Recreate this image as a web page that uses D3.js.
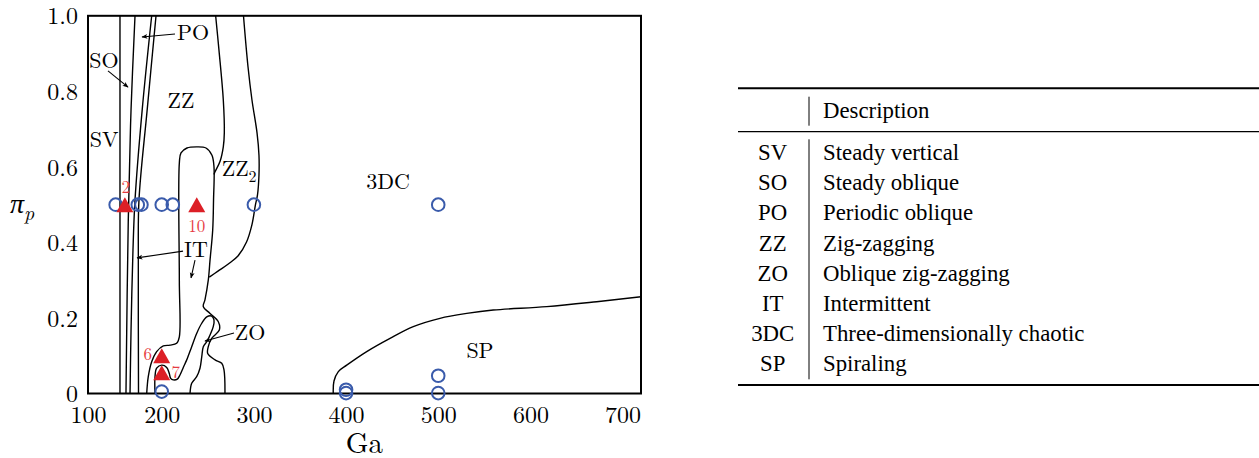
<!DOCTYPE html>
<html>
<head>
<meta charset="utf-8">
<script src="https://cdn.jsdelivr.net/npm/d3@7"></script>
<style>
  body { margin: 0; background: #fff; }
  svg text { font-family: "Latin Modern Roman", "Liberation Serif", serif; fill: #000; }
  svg .table-text { font-family: "Liberation Serif", "Times New Roman", serif; }
</style>
</head>
<body>
<svg id="chart" width="1259" height="458"></svg>
<script>
// ---- Axis ticks ----
const xTickValues = [100, 200, 300, 400, 500, 600, 700];
const yTickValues = [0, 0.2, 0.4, 0.6, 0.8, 1.0];
const yTickLabels = ["0", "0.2", "0.4", "0.6", "0.8", "1.0"];

// ---- Simulated cases (open circles) ----
const caseGa = [150, 174, 178, 200, 212, 300, 500, 200, 400, 400, 500, 500];
const casePi = [0.5, 0.5, 0.5, 0.5, 0.5, 0.5, 0.5, 0.005, 0.01, 0.001, 0.047, 0.001];

// ---- Highlighted cases (filled triangles) ----
const highlightGa = [160, 238, 200, 200];
const highlightPi = [0.5, 0.5, 0.1, 0.055];
const highlightId = ["2", "10", "6", "7"];

// ---- Regime boundaries, as [Ga, pi_p] ----
const boundarySV = [[154.7, 0], [154.7, 1]];
const boundarySO = [[171.0, 1], [166.7, 0.751], [163.7, 0.459], [161.2, 0]];
const boundaryPO = [[189.1, 1], [178.8, 0.751], [171.0, 0.512], [168.8, 0.380], [166.7, 0.168], [165.6, 0]];
const boundaryIT = [[193.8, 1], [184.2, 0.751], [175.3, 0.512], [174.6, 0.353], [174.8, 0]];
const boundaryFinger = [
  [183.7, 0], [185.4, 0.0445], [189.1, 0.084], [194.5, 0.111], [201.7, 0.126], [209.0, 0.128],
  [216.2, 0.133], [219.1, 0.150], [219.1, 0.300], [219.1, 0.610], [220.9, 0.637], [227.4, 0.650],
  [237.9, 0.653], [248.0, 0.650], [254.5, 0.631], [256.7, 0.600], [256.2, 0.512], [255.3, 0.433],
  [252.4, 0.353], [250.5, 0.300], [246.9, 0.248], [245.1, 0.230], [252.4, 0.212], [261.4, 0.190],
  [262.5, 0.168], [254.2, 0.146], [250.5, 0.124], [249.9, 0.106], [257.8, 0.089], [265.1, 0.080],
  [267.6, 0.062], [268.6, 0]
];
const boundaryZO = [
  [192.7, 0], [192.7, 0.0445], [194.5, 0.067], [200.0, 0.075], [205.4, 0.069], [208.2, 0.053],
  [209.7, 0.040], [212.5, 0.036], [216.9, 0.038], [219.8, 0.049], [223.4, 0.069], [227.1, 0.089],
  [232.5, 0.124], [237.9, 0.159], [243.4, 0.186], [248.8, 0.203], [254.2, 0.205], [256.7, 0.195],
  [255.9, 0.177], [252.4, 0.155], [248.8, 0.137], [245.1, 0.124], [243.4, 0.097], [241.5, 0.067],
  [237.9, 0.0445], [232.5, 0.027], [230.7, 0]
];
const boundaryZZ2Inner = [
  [258.5, 1], [262.1, 0.909], [266.8, 0.777], [267.9, 0.690], [266.8, 0.653], [263.2, 0.614],
  [257.8, 0.587], [256.7, 0.580]
];
const boundaryZZ2Outer = [
  [288.7, 1], [293.6, 0.865], [297.9, 0.777], [303.4, 0.690], [305.5, 0.631], [305.5, 0.578],
  [303.9, 0.526], [301.7, 0.500], [297.9, 0.447], [292.0, 0.401], [282.7, 0.364], [272.2, 0.343],
  [261.0, 0.324], [251.6, 0.308]
];
const boundarySP = [
  [386.1, 0], [386.9, 0.033], [391.6, 0.058], [400.7, 0.075], [422.4, 0.111], [447.7, 0.146],
  [472.9, 0.177], [501.9, 0.199], [530.9, 0.212], [559.7, 0.221], [617.7, 0.230], [671.9, 0.243],
  [720, 0.256]
];

// ---- Table contents ----
const regimeCodes = ["SV", "SO", "PO", "ZZ", "ZO", "IT", "3DC", "SP"];
const regimeNames = ["Steady vertical", "Steady oblique", "Periodic oblique", "Zig-zagging",
  "Oblique zig-zagging", "Intermittent", "Three-dimensionally chaotic", "Spiraling"];

// ---- Annotation placement (Ga, pi_p anchors) ----
const regionLabels = [
  { text: "SV", ga: 137.4, pi: 0.653 },
  { text: "SO", ga: 137.4, pi: 0.861 },
  { text: "PO", ga: 233.9, pi: 0.936 },
  { text: "ZZ", ga: 220.9, pi: 0.756 },
  { text: "3DC", ga: 445.5, pi: 0.541 },
  { text: "IT", ga: 237.2, pi: 0.362 },
  { text: "ZO", ga: 295.8, pi: 0.142 },
  { text: "SP", ga: 545.3, pi: 0.094 }
];
const arrows = [
  { from: [214.4, 0.952], to: [178.6, 0.944] },
  { from: [141.7, 0.854], to: [163.4, 0.811] },
  { from: [223.1, 0.377], to: [173.2, 0.359] },
  { from: [236.1, 0.353], to: [231.8, 0.306] },
  { from: [278.4, 0.160], to: [246.9, 0.139] }
];
const idOffsets = { "2": [1, -11.5], "10": [0, 27], "6": [-14, 4.5], "7": [14, 5.5] };

// ---- Layout ----
const svg = d3.select("#chart");
const plot = { left: 88, right: 641, top: 15.8, bottom: 393.5 };

const x = d3.scaleLinear().domain([120, 720]).range([plot.left, plot.right]).clamp(true);
const y = d3.scaleLinear().domain([0, 1]).range([plot.bottom, plot.top]);

svg.append("rect").attr("width", 1259).attr("height", 458).attr("fill", "#fff");

const defs = svg.append("defs");
defs.append("clipPath").attr("id", "plot-clip")
  .append("rect")
  .attr("x", plot.left).attr("y", plot.top)
  .attr("width", plot.right - plot.left).attr("height", plot.bottom - plot.top);
defs.append("marker")
  .attr("id", "arrowhead")
  .attr("viewBox", "0 0 10 10")
  .attr("refX", 9).attr("refY", 5)
  .attr("markerWidth", 6).attr("markerHeight", 6)
  .attr("markerUnits", "userSpaceOnUse")
  .attr("orient", "auto")
  .append("path").attr("d", "M0,1 L10,5 L0,9 L2.5,5 Z").attr("fill", "#000");

// Regime boundaries
const line = d3.line()
  .x(d => x(d[0])).y(d => y(d[1]))
  .curve(d3.curveCatmullRom.alpha(0.5));

const boundaries = [boundarySV, boundarySO, boundaryPO, boundaryIT, boundaryFinger,
  boundaryZO, boundaryZZ2Inner, boundaryZZ2Outer, boundarySP];

svg.append("g").attr("clip-path", "url(#plot-clip)")
  .selectAll("path").data(boundaries).join("path")
  .attr("d", line)
  .attr("fill", "none")
  .attr("stroke", "#000")
  .attr("stroke-width", 1.4);

// Axes (labels only, frame drawn separately)
const xAxis = svg.append("g")
  .attr("transform", `translate(0,${plot.bottom})`)
  .call(d3.axisBottom(x).tickValues(xTickValues).tickSize(0).tickPadding(0));
xAxis.select(".domain").remove();
xAxis.attr("font-family", null).attr("font-size", null);
xAxis.selectAll("text")
  .attr("y", 29.5).attr("dy", null)
  .style("font-size", "24px")
  .attr("fill", "#000");

const yAxis = svg.append("g")
  .attr("transform", `translate(${plot.left},0)`)
  .call(d3.axisLeft(y).tickValues(yTickValues).tickFormat((d, i) => yTickLabels[i])
    .tickSize(0).tickPadding(10));
yAxis.select(".domain").remove();
yAxis.attr("font-family", null).attr("font-size", null);
yAxis.selectAll("text")
  .attr("dy", "0.34em")
  .style("font-size", "24px")
  .attr("fill", "#000");

// Frame
svg.append("rect")
  .attr("x", plot.left).attr("y", plot.top)
  .attr("width", plot.right - plot.left).attr("height", plot.bottom - plot.top)
  .attr("fill", "none").attr("stroke", "#000").attr("stroke-width", 2);

// Axis titles
svg.append("text")
  .attr("x", (plot.left + plot.right) / 2).attr("y", 453)
  .attr("text-anchor", "middle")
  .style("font-size", "29px")
  .text("Ga");

const piLabel = svg.append("text")
  .attr("x", 10).attr("y", 213)
  .style("font-size", "28px")
  .style("font-style", "italic");
piLabel.append("tspan").text("π");
piLabel.append("tspan").attr("dy", 7).style("font-size", "20px").text("p");

// Region labels
svg.append("g").selectAll("text").data(regionLabels).join("text")
  .attr("x", d => x(d.ga)).attr("y", d => y(d.pi))
  .attr("text-anchor", "middle")
  .style("font-size", "22px")
  .text(d => d.text);

const zz2 = svg.append("text")
  .attr("x", x(265.1)).attr("y", y(0.576))
  .style("font-size", "22px");
zz2.append("tspan").text("ZZ");
zz2.append("tspan").attr("dy", 6).style("font-size", "16px").text("2");

// Pointer arrows
svg.append("g").selectAll("line").data(arrows).join("line")
  .attr("x1", d => x(d.from[0])).attr("y1", d => y(d.from[1]))
  .attr("x2", d => x(d.to[0])).attr("y2", d => y(d.to[1]))
  .attr("stroke", "#000").attr("stroke-width", 1.1)
  .attr("marker-end", "url(#arrowhead)");

// Simulated cases
const cases = caseGa.map((g, i) => ({ ga: g, pi: casePi[i] }));
svg.append("g").selectAll("circle").data(cases).join("circle")
  .attr("cx", d => x(d.ga)).attr("cy", d => y(d.pi))
  .attr("r", 6.3)
  .attr("fill", "none")
  .attr("stroke", "#3a5bab")
  .attr("stroke-width", 2);

// Highlighted cases (triangles centred on their bounding box)
const highlights = highlightGa.map((g, i) => ({ ga: g, pi: highlightPi[i], id: highlightId[i] }));
const triSide = 17, triHeight = 15;
svg.append("g").selectAll("path").data(highlights).join("path")
  .attr("d", d => {
    const cx = x(d.ga), cy = y(d.pi);
    return `M${cx},${cy - triHeight / 2}L${cx + triSide / 2},${cy + triHeight / 2}L${cx - triSide / 2},${cy + triHeight / 2}Z`;
  })
  .attr("fill", "#dc1f26");

svg.append("g").selectAll("text").data(highlights).join("text")
  .attr("x", d => x(d.ga) + idOffsets[d.id][0])
  .attr("y", d => y(d.pi) + idOffsets[d.id][1])
  .attr("text-anchor", "middle")
  .style("font-size", "17px")
  .style("fill", "#e63b42")
  .text(d => d.id);

// ---- Regime table ----
const table = { left: 738, right: 1259, codeX: 772.7, divX: 809, textX: 823 };
const rowY = d3.scalePoint().domain(regimeCodes).range([160, 371.3]);
const tg = svg.append("g").style("font-size", "22.8px");

tg.append("line").attr("x1", table.left).attr("x2", table.right)
  .attr("y1", 88.3).attr("y2", 88.3).attr("stroke", "#000").attr("stroke-width", 2);
tg.append("line").attr("x1", table.left).attr("x2", table.right)
  .attr("y1", 131.7).attr("y2", 131.7).attr("stroke", "#000").attr("stroke-width", 1.2);
tg.append("line").attr("x1", table.left).attr("x2", table.right)
  .attr("y1", 385).attr("y2", 385).attr("stroke", "#000").attr("stroke-width", 2);
tg.append("line").attr("x1", table.divX).attr("x2", table.divX)
  .attr("y1", 96.7).attr("y2", 125.7).attr("stroke", "#000").attr("stroke-width", 1);
tg.append("line").attr("x1", table.divX).attr("x2", table.divX)
  .attr("y1", 139.3).attr("y2", 379.3).attr("stroke", "#000").attr("stroke-width", 1);

tg.append("text").attr("class", "table-text")
  .attr("x", table.textX).attr("y", 118.3).text("Description");

tg.selectAll("text.code").data(regimeCodes).join("text")
  .attr("class", "code table-text")
  .attr("x", table.codeX).attr("y", d => rowY(d))
  .attr("text-anchor", "middle")
  .text(d => d);

tg.selectAll("text.desc").data(regimeNames).join("text")
  .attr("class", "desc table-text")
  .attr("x", table.textX).attr("y", (d, i) => rowY(regimeCodes[i]))
  .text(d => d);
</script>
</body>
</html>
